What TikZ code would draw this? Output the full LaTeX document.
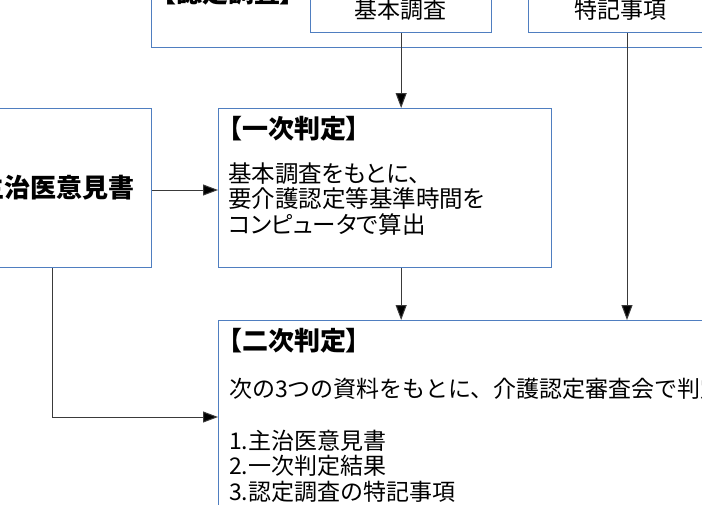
\documentclass[tikz,border=0pt]{standalone}
\usepackage{fontspec}
\newfontfamily\jp{Noto Sans CJK JP}
\newfontfamily\jpp{Noto Sans CJK JP}[RawFeature=+palt]
\usetikzlibrary{arrows.meta}
\definecolor{boxblue}{HTML}{4F7EC0}
\definecolor{linegray}{HTML}{3A3A3A}
\begin{document}
\begin{tikzpicture}[x=1pt,y=-1pt,
  box/.style={draw=boxblue,line width=1.3pt,fill=white,rectangle,inner sep=0pt,anchor=north west},
  arr/.style={draw=linegray,line width=1pt,-{Triangle[length=15pt,width=11pt,fill=black]}},
  txt/.style={inner sep=0pt,font=\jp\fontsize{23}{25.5}\selectfont},
  ptxt/.style={inner sep=0pt,font=\jpp\fontsize{23.5}{25.5}\selectfont},
  ttl/.style={inner sep=0pt,font=\jpp\bfseries\fontsize{26}{28}\selectfont},
  big/.style={inner sep=0pt,font=\jp\bfseries\fontsize{26}{28}\selectfont}]
\useasboundingbox (0,0) rectangle (702,504);
\clip (0,0) rectangle (702,504);
% boxes
\node[box,minimum width=600pt,minimum height=87pt] (chosa) at (151,-40) {};
\node[box,minimum width=181pt,minimum height=52pt] (kihon) at (310,-20) {};
\node[box,minimum width=184pt,minimum height=52pt] (tokki) at (528,-20) {};
\node[box,minimum width=189pt,minimum height=159pt] (shujii) at (-38,108) {};
\node[box,minimum width=333pt,minimum height=159pt] (ichiji) at (218,108) {};
\node[box,minimum width=540pt,minimum height=250pt] (niji) at (218,320) {};
% texts
\node[ttl,anchor=base west] (lblchosa) at (163,2) {【認定調査】};
\node[txt,anchor=base] (lblkihon) at (400.5,18) {基本調査};
\node[txt,anchor=base] (lbltokki) at (620,18) {特記事項};
\node[big,anchor=base] (lblshujii) at (57,197) {主治医意見書};
\node[ttl,anchor=base west] (lblichiji) at (229,138) {【一次判定】};
\node[ptxt,anchor=base west] (i1) at (228,182) {基本調査をもとに、};
\node[ptxt,anchor=base west] (i2) at (228,207.5) {要介護認定等基準時間を};
\node[ptxt,anchor=base west] (i3) at (228,233) {コンピュータで算出};
\node[ttl,anchor=base west] (lblniji) at (229,350) {【二次判定】};
\node[txt,anchor=base west] (n1) at (229,397) {次の3つの資料をもとに、介護認定審査会で判定};
\node[txt,anchor=base west] (n2) at (229,449) {1.主治医意見書};
\node[txt,anchor=base west] (n3) at (229,474.5) {2.一次判定結果};
\node[txt,anchor=base west] (n4) at (229,500) {3.認定調査の特記事項};
% connectors
\coordinate (tx) at (627,0);
\coordinate (ya) at (0,190);
\coordinate (sx) at (52,0);
\coordinate (yb) at (0,417);
\draw[arr] (kihon.south) -- (kihon.south |- ichiji.north);
\draw[arr] (kihon.south |- ichiji.south) -- (kihon.south |- niji.north);
\draw[arr] (tokki.south -| tx) -- (niji.north -| tx);
\draw[arr] (shujii.east |- ya) -- (ichiji.west |- ya);
\draw[arr] (shujii.south -| sx) |- (niji.west |- yb);
\end{tikzpicture}
\end{document}
